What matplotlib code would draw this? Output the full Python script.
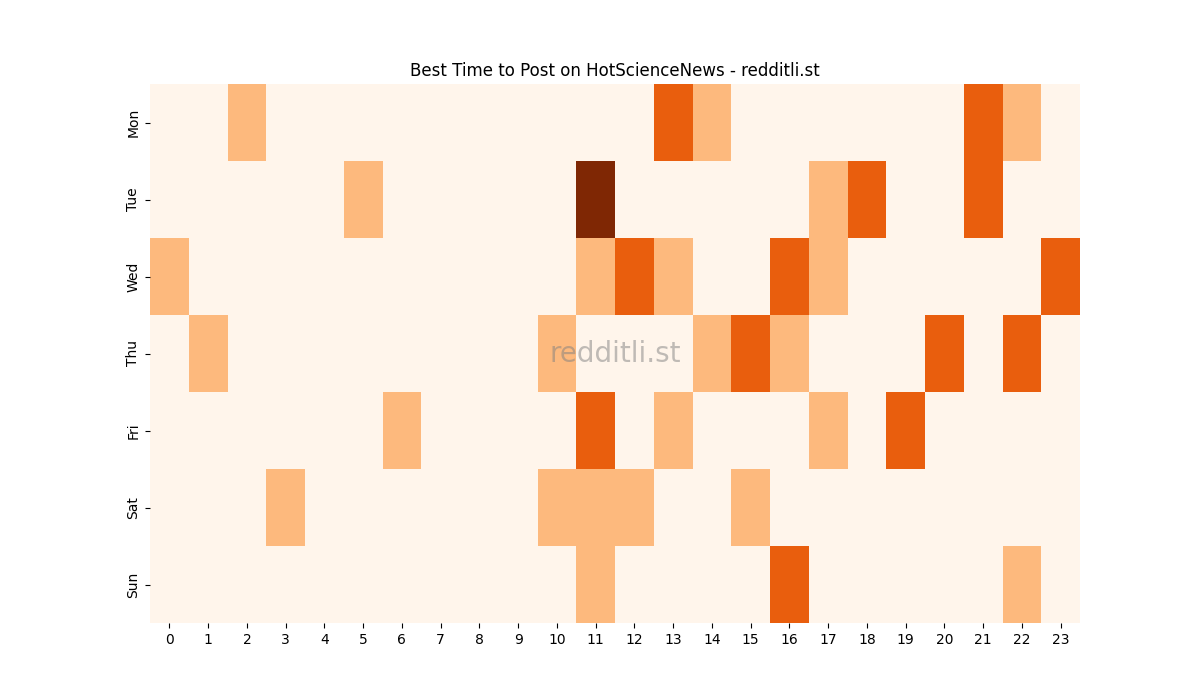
import numpy as np
import matplotlib
matplotlib.use("Agg")
import matplotlib.pyplot as plt
import seaborn as sns

# dias e horas
dias = ["Mon", "Tue", "Wed", "Thu", "Fri", "Sat", "Sun"]
horas = list(range(24))

# intensidade por hora (0-3)
seg = {2: 1, 13: 2, 14: 1, 21: 2, 22: 1}
ter = {5: 1, 11: 3, 17: 1, 18: 2, 21: 2}
qua = {0: 1, 11: 1, 12: 2, 13: 1, 16: 2, 17: 1, 23: 2}
qui = {1: 1, 10: 1, 14: 1, 15: 2, 16: 1, 20: 2, 22: 2}
sex = {6: 1, 11: 2, 13: 1, 17: 1, 19: 2}
sab = {3: 1, 10: 1, 11: 1, 12: 1, 15: 1}
dom = {11: 1, 16: 2, 22: 1}

linhas = [seg, ter, qua, qui, sex, sab, dom]
matriz = np.zeros((len(dias), len(horas)))
for i, linha in enumerate(linhas):
    for h, v in linha.items():
        matriz[i, h] = v

fig = plt.figure(figsize=(12, 7), dpi=100)
ax = sns.heatmap(matriz, cmap="Oranges", cbar=False, vmin=0, vmax=3,
                 xticklabels=horas, yticklabels=dias)
ax.set_title("Best Time to Post on HotScienceNews - redditli.st")
ax.text(0.5, 0.5, "redditli.st", transform=ax.transAxes, ha="center", va="center",
        fontsize=20, color="gray", alpha=0.5)
plt.yticks(rotation=90, va="center")
plt.xticks(rotation=0)
plt.savefig("out.png")
plt.close()
